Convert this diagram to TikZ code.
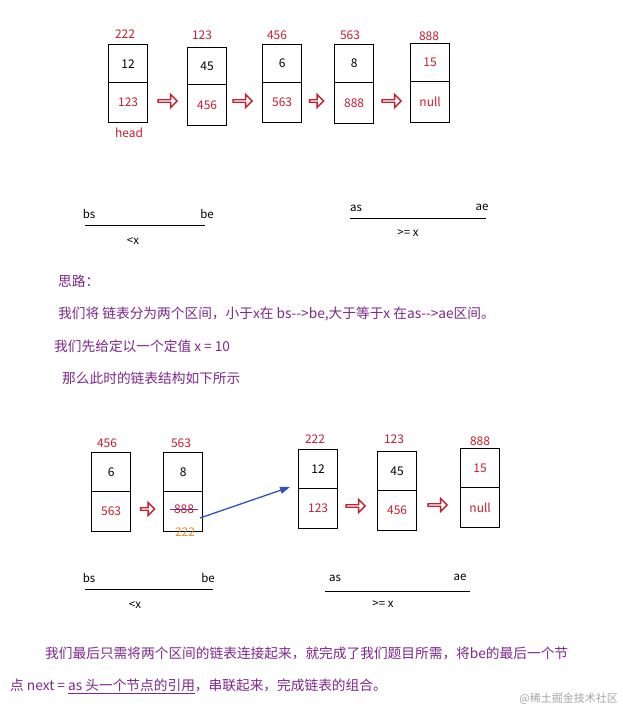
\documentclass[tikz,border=0pt]{standalone}
\usepackage{fontspec}
\setmainfont{Noto Sans CJK SC}
\usetikzlibrary{shapes.arrows,arrows.meta,calc}
\definecolor{rd}{RGB}{200,30,50}
\definecolor{pu}{RGB}{125,40,140}
\definecolor{bl}{RGB}{50,80,200}
\definecolor{org}{RGB}{235,140,50}
\tikzset{
 cell/.style={draw,line width=1.3pt,minimum width=39pt,inner sep=0pt,font=\fontsize{12}{14}\selectfont},
 lbl/.style={text=rd,font=\fontsize{12}{14}\selectfont,inner sep=1pt},
 blk/.style={font=\fontsize{11.5}{14}\selectfont,inner sep=1pt},
 rarr/.style={single arrow,draw=rd,line width=1.4pt,minimum height=19pt,minimum width=13pt,single arrow head extend=3pt,inner sep=0pt},
 ptxt/.style={text=pu,font=\fontsize{13.7}{16}\selectfont,anchor=west,inner sep=0pt},
 seg/.style={line width=1pt},
}
\newcommand{\lnode}[7]{% name, x, top, mid, bottom, topText, botText
 \node[cell,minimum height={#4-#3},anchor=north west] (#1t) at (#2,#3) {#6};
 \node[cell,minimum height={#5-#4},anchor=north west] (#1b) at (#2,#4) {#7};
}
\begin{document}
\begin{tikzpicture}[x=1pt,y=-1pt]
\useasboundingbox[fill=white] (0,0) rectangle (622,711);
% top list
\lnode{a}{108}{44}{82}{122}{12}{\textcolor{rd}{123}}
\lnode{b}{187}{47}{84}{125}{45}{\textcolor{rd}{456}}
\lnode{c}{262}{44}{82}{122}{6}{\textcolor{rd}{563}}
\lnode{d}{334}{44}{82}{123}{8}{\textcolor{rd}{888}}
\lnode{e}{410}{43}{81}{122}{\textcolor{rd}{15}}{\textcolor{rd}{null}}
\node[lbl] (la) at (125,34) {222};
\node[lbl] (lb) at (202,35) {123};
\node[lbl] (lc) at (277,35) {456};
\node[lbl] (ld) at (350,35) {563};
\node[lbl] (le) at (429,36) {888};
\node[lbl] (hd) at (129,133) {head};
\node[rarr] (r1) at (167,101) {};
\node[rarr] (r2) at (242,101) {};
\node[rarr,minimum height=14pt] (r3) at (316,101) {};
\node[rarr] (r4) at (391,101) {};
% top segments
\coordinate (s1) at (85,225); \coordinate (s2) at (205,225);
\draw[seg] (s1) -- (s2);
\node[blk] (bs1) at (89,214) {bs};
\node[blk] (be1) at (207,214) {be};
\node[blk] (lx1) at (133,241) {<x};
\coordinate (s3) at (350,219); \coordinate (s4) at (486,219);
\draw[seg] (s3) -- (s4);
\node[blk] (as1) at (356,208) {as};
\node[blk] (ae1) at (482,207) {ae};
\node[blk] (gx1) at (408,233) {>= x};
% text
\node[ptxt] (t0) at (58,281) {思路：};
\node[ptxt] (t1) at (58,314) {我们将 链表分为两个区间，小于x在 bs-{}->be,大于等于x 在as-{}->ae区间。};
\node[ptxt] (t2) at (54,346) {我们先给定以一个定值 x = 10};
\node[ptxt] (t3) at (62,378) {那么此时的链表结构如下所示};
% bottom list
\lnode{f}{91}{452}{491}{531}{6}{\textcolor{rd}{563}}
\lnode{g}{163}{452}{491}{531}{8}{}
\lnode{h}{298}{449}{488}{528}{12}{\textcolor{rd}{123}}
\lnode{i}{377}{451}{490}{530}{45}{\textcolor{rd}{456}}
\lnode{j}{460}{448}{487}{527}{\textcolor{rd}{15}}{\textcolor{rd}{null}}
\node[lbl] (lf) at (107,443) {456};
\node[lbl] (lg) at (181,443) {563};
\node[lbl] (lh) at (315,439) {222};
\node[lbl] (li) at (394,439) {123};
\node[lbl] (lj) at (480,441) {888};
\node[lbl] (old) at (184,509) {888};
\draw[pu,line width=1pt] ($(old.west)+(-3,0)$) -- ($(old.east)+(3,0)$);
\node[lbl,text=org] (new) at (185,532) {222};
\node[rarr,minimum height=14pt] (r5) at (147,509) {};
\node[rarr] (r6) at (355,506) {};
\node[rarr] (r7) at (437,505) {};
\coordinate (bf) at (200,518);
\draw[bl,line width=1.3pt,-{Triangle[length=10pt,width=7pt]}] (bf) -- (290,487);
% bottom segments
\coordinate (s5) at (85,589); \coordinate (s6) at (213,589);
\draw[seg] (s5) -- (s6);
\node[blk] (bs2) at (89,578) {bs};
\node[blk] (be2) at (208,578) {be};
\node[blk] (lx2) at (135,605) {<x};
\coordinate (s7) at (325,591); \coordinate (s8) at (470,591);
\draw[seg] (s7) -- (s8);
\node[blk] (as2) at (335,578) {as};
\node[blk] (ae2) at (460,577) {ae};
\node[blk] (gx2) at (383,604) {>= x};
\node[ptxt] (t4) at (45,653) {我们最后只需将两个区间的链表连接起来，就完成了我们题目所需，将be的最后一个节};
\node[ptxt] (t5) at (10,686) {点 next = \underline{as 头一个节点的引用}，串联起来，完成链表的组合。};
\node[text=gray!70,font=\fontsize{11}{13}\selectfont,anchor=east,inner sep=0pt] (wm) at (618,699) {@稀土掘金技术社区};
\end{tikzpicture}
\end{document}
